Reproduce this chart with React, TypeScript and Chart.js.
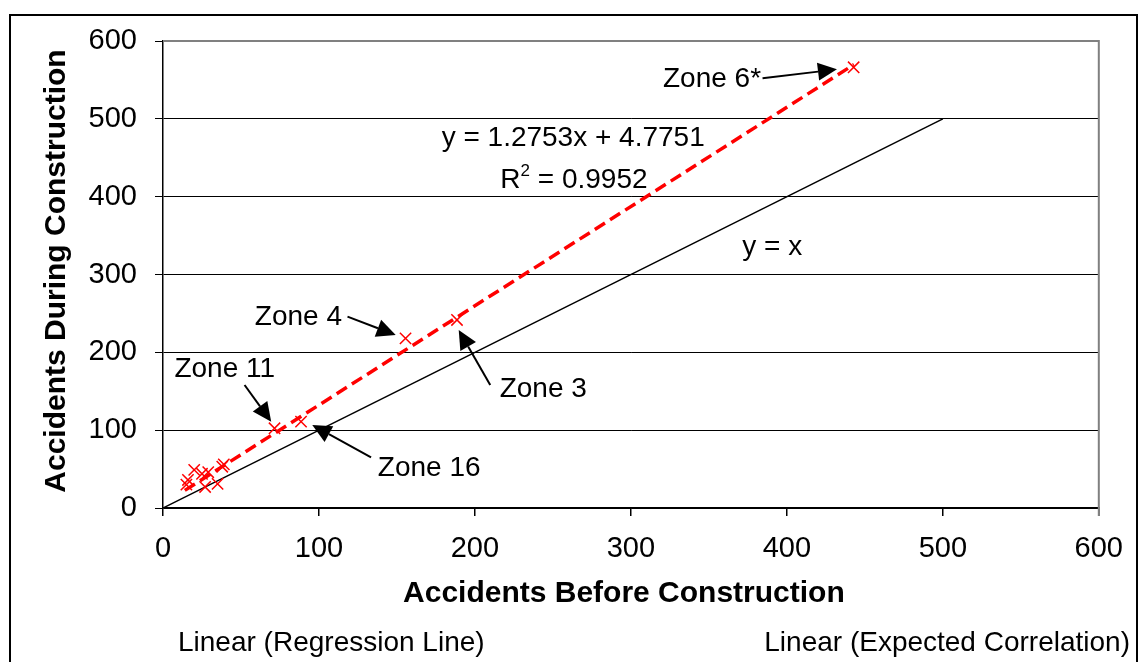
import { useEffect, useRef } from "react";
import { Chart, registerables } from "chart.js";

Chart.register(...registerables);

// ---- Data ----
const beforeConstruction = [15, 16, 20, 25, 27, 29, 35, 38, 39, 71.5, 88.5, 155.5, 188.5, 442.8];
const duringConstruction = [30, 36, 49, 44, 27, 46, 31, 53, 56, 102.4, 110.9, 218, 241.6, 566.2];

const trendSlope = 1.2753;
const trendIntercept = 4.7751;
const trendRange = [14, 443];
const identityRange = [0, 500];

const axisMin = 0;
const axisMax = 600;
const axisStep = 100;

const xTitle = "Accidents Before Construction";
const yTitle = "Accidents During Construction";
const legendLabels = ["Linear (Regression Line)", "Linear (Expected Correlation)"];

const equationText = "y = 1.2753x + 4.7751";
const rSquaredValue = "0.9952";

const zoneLabels = [
  { text: "Zone 6*", x: 352, y: 541 },
  { text: "Zone 4", x: 86.8, y: 235 },
  { text: "Zone 3", x: 243.8, y: 142.6 },
  { text: "Zone 11", x: 39.6, y: 168.3 },
  { text: "Zone 16", x: 170.7, y: 41.1 },
  { text: "y = x", x: 390.6, y: 325 },
];

const arrows = [
  { fx: 384.4, fy: 552, tx: 432.1, ty: 563.6 },
  { fx: 118.3, fy: 245.8, tx: 149.2, ty: 222.3 },
  { fx: 209.8, fy: 158, tx: 189.6, ty: 228.7 },
  { fx: 52.3, fy: 158, tx: 69.4, ty: 110.9 },
  { fx: 133.4, fy: 65.1, tx: 95.7, ty: 106.6 },
];

const equationPos = { x: 263, y: 465 };
const rSquaredPos = { x: 263.5, y: 411 };

const FONT = "'Liberation Sans', Arial, Helvetica, sans-serif";

export default function App() {
  const canvasRef = useRef<HTMLCanvasElement | null>(null);

  useEffect(() => {
    document.body.style.margin = "0";
    const canvas = canvasRef.current;
    if (!canvas) return;

    const points = beforeConstruction.map((x, i) => ({ x, y: duringConstruction[i] }));
    const trend = trendRange.map((x) => ({ x, y: trendSlope * x + trendIntercept }));
    const identity = identityRange.map((x) => ({ x, y: x }));

    const overlay = {
      id: "overlay",
      afterDatasetsDraw(chart: any) {
        const ctx = chart.ctx as CanvasRenderingContext2D;
        const xs = chart.scales.x;
        const ys = chart.scales.y;
        const area = chart.chartArea;
        ctx.save();

        // gray plot border on top and right
        ctx.strokeStyle = "#808080";
        ctx.lineWidth = 2;
        ctx.beginPath();
        ctx.moveTo(area.left, area.top);
        ctx.lineTo(area.right, area.top);
        ctx.lineTo(area.right, area.bottom + 8);
        ctx.stroke();

        // arrows
        ctx.strokeStyle = "#000";
        ctx.fillStyle = "#000";
        ctx.lineWidth = 2;
        for (const a of arrows) {
          const x1 = xs.getPixelForValue(a.fx);
          const y1 = ys.getPixelForValue(a.fy);
          const x2 = xs.getPixelForValue(a.tx);
          const y2 = ys.getPixelForValue(a.ty);
          const ang = Math.atan2(y2 - y1, x2 - x1);
          const hl = 19;
          const hw = 9;
          const bx = x2 - hl * Math.cos(ang);
          const by = y2 - hl * Math.sin(ang);
          ctx.beginPath();
          ctx.moveTo(x1, y1);
          ctx.lineTo(bx, by);
          ctx.stroke();
          ctx.beginPath();
          ctx.moveTo(x2, y2);
          ctx.lineTo(bx + hw * Math.sin(ang), by - hw * Math.cos(ang));
          ctx.lineTo(bx - hw * Math.sin(ang), by + hw * Math.cos(ang));
          ctx.closePath();
          ctx.fill();
        }

        // zone labels
        ctx.font = `28px ${FONT}`;
        ctx.textAlign = "center";
        ctx.textBaseline = "alphabetic";
        for (const z of zoneLabels) {
          ctx.fillText(z.text, xs.getPixelForValue(z.x), ys.getPixelForValue(z.y));
        }

        // equation
        ctx.fillText(equationText, xs.getPixelForValue(equationPos.x), ys.getPixelForValue(equationPos.y));

        // R^2
        const rx = xs.getPixelForValue(rSquaredPos.x);
        const ry = ys.getPixelForValue(rSquaredPos.y);
        ctx.font = `28px ${FONT}`;
        const wR = ctx.measureText("R").width;
        const wRest = ctx.measureText(" = " + rSquaredValue).width;
        ctx.font = `17px ${FONT}`;
        const w2 = ctx.measureText("2").width;
        const total = wR + w2 + wRest;
        let cx = rx - total / 2;
        ctx.textAlign = "left";
        ctx.font = `28px ${FONT}`;
        ctx.fillText("R", cx, ry);
        cx += wR;
        ctx.font = `17px ${FONT}`;
        ctx.fillText("2", cx, ry - 12);
        cx += w2;
        ctx.font = `28px ${FONT}`;
        ctx.fillText(" = " + rSquaredValue, cx, ry);

        ctx.restore();
      },
      afterDraw(chart: any) {
        const ctx = chart.ctx as CanvasRenderingContext2D;
        const area = chart.chartArea;
        ctx.save();
        ctx.fillStyle = "#000";

        // axis titles
        ctx.font = `bold 30px ${FONT}`;
        ctx.textAlign = "center";
        ctx.textBaseline = "alphabetic";
        ctx.fillText(xTitle, (area.left + area.right) / 2 - 7, 602);
        ctx.save();
        ctx.translate(57, 271);
        ctx.rotate(-Math.PI / 2);
        ctx.textBaseline = "middle";
        ctx.fillText(yTitle, 0, 0);
        ctx.restore();

        // legend entries (text only)
        ctx.font = `28px ${FONT}`;
        ctx.textBaseline = "alphabetic";
        ctx.textAlign = "left";
        ctx.fillText(legendLabels[0], 178, 651);
        ctx.textAlign = "right";
        ctx.fillText(legendLabels[1], 1130, 651);

        // outer frame
        ctx.strokeStyle = "#000";
        ctx.lineWidth = 2;
        ctx.strokeRect(10, 15, 1127, 700);
        ctx.restore();
      },
    };

    const chart = new Chart(canvas, {
      type: "scatter",
      data: {
        datasets: [
          {
            label: "Zones",
            data: points,
            showLine: false,
            pointStyle: "crossRot",
            pointRadius: 8,
            pointBorderWidth: 1.5,
            borderColor: "#ff0000",
            backgroundColor: "#ff0000",
          },
          {
            label: legendLabels[0],
            data: trend,
            showLine: true,
            borderColor: "#ff0000",
            borderWidth: 3.5,
            borderDash: [12, 6],
            pointRadius: 0,
          },
          {
            label: legendLabels[1],
            data: identity,
            showLine: true,
            borderColor: "#000",
            borderWidth: 1.5,
            pointRadius: 0,
          },
        ],
      },
      options: {
        responsive: false,
        animation: false,
        devicePixelRatio: 1,
        layout: { padding: { left: 0, top: 41, right: 36, bottom: 0 } },
        plugins: {
          legend: { display: false },
          tooltip: { enabled: false },
          title: { display: false },
        },
        scales: {
          x: {
            type: "linear",
            min: axisMin,
            max: axisMax,
            afterFit: (s: any) => {
              s.height = 154;
            },
            ticks: {
              stepSize: axisStep,
              color: "#000",
              font: { family: FONT, size: 29 },
              padding: 16,
              maxRotation: 0,
            },
            grid: {
              drawOnChartArea: false,
              drawTicks: true,
              tickLength: 8,
              color: "#000",
              lineWidth: 1.5,
            },
            border: { color: "#000", width: 1.5 },
          },
          y: {
            type: "linear",
            min: axisMin,
            max: axisMax,
            afterFit: (s: any) => {
              s.width = 163;
            },
            ticks: {
              stepSize: axisStep,
              color: "#000",
              font: { family: FONT, size: 29 },
              padding: 18,
            },
            grid: {
              drawTicks: true,
              tickLength: 8,
              color: "#000",
              lineWidth: 1,
            },
            border: { color: "#000", width: 1.5 },
          },
        },
      },
      plugins: [overlay],
    });

    return () => {
      chart.destroy();
    };
  }, []);

  return (
    <div style={{ width: 1139, height: 662, background: "#fff" }}>
      <canvas ref={canvasRef} width={1139} height={662} style={{ display: "block" }} />
    </div>
  );
}
